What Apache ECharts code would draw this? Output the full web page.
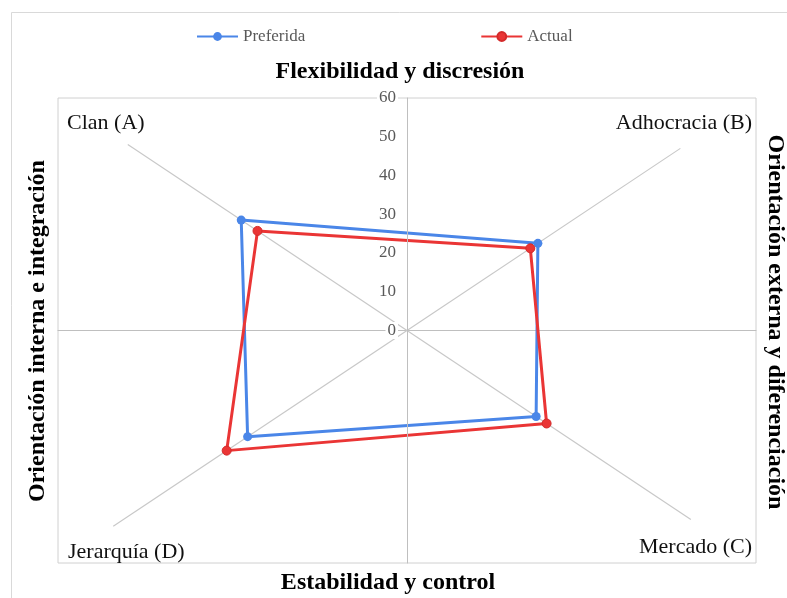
<!DOCTYPE html>
<html>
<head>
<meta charset="utf-8">
<script src="https://cdn.jsdelivr.net/npm/echarts@6/dist/echarts.min.js"></script>
<style>
html,body{margin:0;padding:0;background:#fff;}
#chart{width:787px;height:598px;}
</style>
</head>
<body>
<div id="chart"></div>
<script>
// ---- data ----
const categories = ['Clan (A)', 'Adhocracia (B)', 'Mercado (C)', 'Jerarquía (D)'];
const preferida = [28.5, 22.5, 22.2, 27.4];
const actual = [25.7, 21.2, 24.0, 31.0];
const spokeLength = [48, 47, 48.8, 50.5];
const quadrantSign = [[-1, 1], [1, 1], [1, -1], [-1, -1]];
const seriesNames = ['Preferida', 'Actual'];
const axisTitles = ['Flexibilidad y discresión', 'Estabilidad y control',
  'Orientación interna e integración', 'Orientación externa y diferenciación'];

function toPoints(vals) {
  const pts = vals.map((v, i) => [quadrantSign[i][0] * v, quadrantSign[i][1] * v]);
  pts.push({ value: pts[0], symbol: 'none' });
  return pts;
}

const spokes = spokeLength.map((len, i) => ({
  coords: [[0, 0], [quadrantSign[i][0] * len, quadrantSign[i][1] * len]]
}));

const serif = '"Liberation Serif", "Times New Roman", serif';
const chart = echarts.init(document.getElementById('chart'));

const gridLeft = 58, gridRight = 31;
const plotWidth = 787 - gridLeft - gridRight;

const option = {
  animation: false,
  backgroundColor: '#fff',
  legend: {
    data: seriesNames,
    left: 196,
    top: 28,
    padding: 0,
    itemWidth: 41,
    itemHeight: 11,
    itemGap: 175,
    textStyle: { fontFamily: serif, fontSize: 17, color: '#595959' }
  },
  grid: {
    left: gridLeft, right: gridRight, top: 98, bottom: 35,
    show: true, borderColor: '#D0D0D0', borderWidth: 1, backgroundColor: 'transparent'
  },
  xAxis: {
    type: 'value', min: -60, max: 60, interval: 10,
    axisLine: { show: true, onZero: true, lineStyle: { color: '#BFBFBF', width: 1 } },
    axisTick: { show: false }, axisLabel: { show: false }, splitLine: { show: false }
  },
  yAxis: {
    type: 'value', min: -60, max: 60, interval: 10,
    position: 'left',
    offset: -plotWidth / 2,
    axisLine: { show: true, onZero: false, lineStyle: { color: '#BFBFBF', width: 1 } },
    axisTick: { show: false }, splitLine: { show: false },
    axisLabel: {
      show: true, margin: 9,
      fontFamily: serif, fontSize: 17, color: '#595959',
      backgroundColor: '#fff', padding: [0, 2],
      formatter: v => (v >= 0 ? String(v) : '')
    },
    z: 5
  },
  series: [
    {
      type: 'lines', coordinateSystem: 'cartesian2d', silent: true,
      data: spokes,
      lineStyle: { color: '#C8C8C8', width: 1.2, opacity: 1 },
      z: 1
    },
    {
      name: seriesNames[0], type: 'line', data: toPoints(preferida),
      symbol: 'circle', symbolSize: 9,
      itemStyle: { color: '#4A86E8' },
      lineStyle: { color: '#4A86E8', width: 3 },
      z: 3
    },
    {
      name: seriesNames[1], type: 'line', data: toPoints(actual),
      symbol: 'circle', symbolSize: 9,
      itemStyle: { color: '#EA3535', borderColor: '#D42A2A', borderWidth: 1 },
      lineStyle: { color: '#EA3535', width: 3 },
      z: 4
    }
  ],
  graphic: [
    { type: 'rect', shape: { x: 11.5, y: 12.5, width: 820, height: 640 },
      style: { fill: 'none', stroke: '#D9D9D9', lineWidth: 1 }, z: -10, silent: true },
    { type: 'text', x: 400, y: 72, style: { text: axisTitles[0], font: 'bold 24px ' + serif, fill: '#000', align: 'center', verticalAlign: 'middle' } },
    { type: 'text', x: 388, y: 583, style: { text: axisTitles[1], font: 'bold 24px ' + serif, fill: '#000', align: 'center', verticalAlign: 'middle' } },
    { type: 'text', x: 38, y: 331, rotation: Math.PI / 2, style: { text: axisTitles[2], font: 'bold 24px ' + serif, fill: '#000', align: 'center', verticalAlign: 'middle' } },
    { type: 'text', x: 775, y: 322, rotation: -Math.PI / 2, style: { text: axisTitles[3], font: 'bold 24px ' + serif, fill: '#000', align: 'center', verticalAlign: 'middle' } },
    { type: 'text', x: 67, y: 123, style: { text: categories[0], font: '22px ' + serif, fill: '#111', align: 'left', verticalAlign: 'middle' } },
    { type: 'text', x: 752, y: 123, style: { text: categories[1], font: '22px ' + serif, fill: '#111', align: 'right', verticalAlign: 'middle' } },
    { type: 'text', x: 752, y: 547, style: { text: categories[2], font: '22px ' + serif, fill: '#111', align: 'right', verticalAlign: 'middle' } },
    { type: 'text', x: 68, y: 552, style: { text: categories[3], font: '22px ' + serif, fill: '#111', align: 'left', verticalAlign: 'middle' } }
  ]
};
chart.setOption(option);
</script>
</body>
</html>
